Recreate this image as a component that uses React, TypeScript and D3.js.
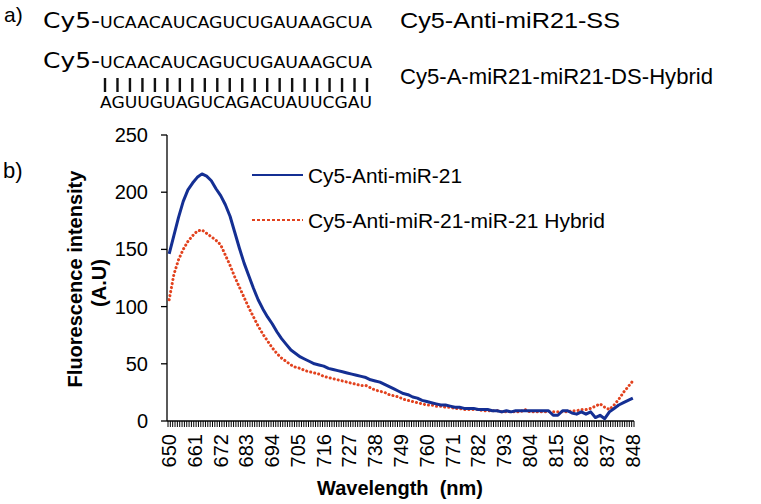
import React from "react";
import * as d3 from "d3";

const wavelengths: number[] = [
  650, 652, 654, 656, 658, 660, 662, 664, 666, 668, 670, 672, 674, 676, 678, 680, 682, 684, 686, 688,
  690, 692, 694, 696, 698, 700, 702, 704, 706, 708, 710, 712, 714, 716, 718, 720, 722, 724, 726, 728,
  730, 732, 734, 736, 738, 740, 742, 744, 746, 748, 750, 752, 754, 756, 758, 760, 762, 764, 766, 768,
  770, 772, 774, 776, 778, 780, 782, 784, 786, 788, 790, 792, 794, 796, 798, 800, 802, 804, 806, 808,
  810, 812, 814, 816, 818, 820, 822, 824, 826, 828, 830, 832, 834, 836, 838, 840, 842, 844, 846, 848,
];

const antiMiR21: number[] = [
  146, 162, 178, 192, 202, 208, 213, 216, 214, 210, 203, 197, 189, 179, 165, 151, 138, 127, 116, 106,
  98, 91, 85, 78, 72, 67, 62, 59, 56, 54, 52, 50, 49, 48, 46, 45, 44, 43, 42, 41,
  40, 39, 38, 36, 35, 34, 32, 30, 28, 26, 24, 23, 21, 20, 18, 17, 16, 15, 14, 14,
  13, 12, 12, 11, 11, 11, 10, 10, 10, 9, 9, 8, 9, 8, 9, 9, 9, 9, 9, 9,
  9, 9, 5, 5, 9, 9, 7, 6, 8, 6, 8, 3, 5, 2, 8, 11, 14, 16, 18, 20,
];

const hybrid: number[] = [
  106, 128, 141, 150, 157, 162, 166, 167, 164, 161, 158, 154, 145, 136, 126, 117, 108, 99, 91, 83,
  76, 70, 64, 59, 55, 52, 49, 47, 46, 44, 43, 42, 41, 39, 38, 37, 36, 35, 34, 33,
  32, 31, 31, 29, 27, 26, 25, 23, 22, 21, 19, 18, 17, 16, 15, 14, 14, 13, 13, 12,
  12, 11, 11, 10, 10, 10, 10, 9, 9, 9, 9, 8, 8, 8, 8, 8, 10, 8, 8, 8,
  8, 8, 8, 8, 8, 8, 9, 9, 10, 10, 11, 13, 15, 12, 10, 14, 19, 25, 30, 35,
];

const xTickLabels: number[] = [650, 661, 672, 683, 694, 705, 716, 727, 738, 749, 760, 771, 782, 793, 804, 815, 826, 837, 848];
const yTicks: number[] = [0, 50, 100, 150, 200, 250];

const seqTop = "UCAACAUCAGUCUGAUAAGCUA";
const seqBottom = "AGUUGUAGUCAGACUAUUCGAU";
const seriesNames = ["Cy5-Anti-miR-21", "Cy5-Anti-miR-21-miR-21 Hybrid"];

const W = 761;
const H = 504;
const ARIAL = "'Liberation Sans', Arial, sans-serif";
const VERD = "'DejaVu Sans', Verdana, sans-serif";
const BLUE = "#142f93";
const RED = "#e2421e";

export default function App() {
  const x = d3.scaleLinear().domain([649.5, 848.5]).range([168, 634]);
  const y = d3.scaleLinear().domain([0, 250]).range([421, 135]);
  const line = d3
    .line<number>()
    .x((_, i) => x(wavelengths[i]))
    .y((d) => y(d));
  const allTicks = d3.range(650, 849);
  const bars = d3.range(seqTop.length);
  const barX = d3.scaleLinear().domain([0, seqTop.length - 1]).range([105, 367]);

  return (
    <svg
      width={W}
      height={H}
      style={{ position: "absolute", left: 0, top: 0, background: "#fff" }}
    >
      <rect width={W} height={H} fill="#fff" />
      {/* panel a */}
      <text x={4} y={22} fontFamily={ARIAL} fontSize={21}>a)</text>
      <text x={43} y={28} fontFamily={VERD} fontSize={22} textLength={57} lengthAdjust="spacingAndGlyphs">Cy5-</text>
      <text x={100} y={28} fontFamily={VERD} fontSize={16} textLength={272} lengthAdjust="spacingAndGlyphs">{seqTop}</text>
      <text x={43} y={68} fontFamily={VERD} fontSize={22} textLength={57} lengthAdjust="spacingAndGlyphs">Cy5-</text>
      <text x={100} y={68} fontFamily={VERD} fontSize={16} textLength={272} lengthAdjust="spacingAndGlyphs">{seqTop}</text>
      {bars.map((i) => (
        <rect key={i} x={barX(i) - 1.2} y={78} width={2.4} height={14} fill="#111" />
      ))}
      <text x={100} y={108} fontFamily={VERD} fontSize={16} textLength={272} lengthAdjust="spacingAndGlyphs">{seqBottom}</text>
      <text x={400} y={28} fontFamily={ARIAL} fontSize={22} textLength={220} lengthAdjust="spacingAndGlyphs">Cy5-Anti-miR21-SS</text>
      <text x={400} y={84} fontFamily={ARIAL} fontSize={22} textLength={313} lengthAdjust="spacingAndGlyphs">Cy5-A-miR21-miR21-DS-Hybrid</text>

      {/* panel b */}
      <text x={3} y={178} fontFamily={ARIAL} fontSize={22}>b)</text>

      {/* y axis */}
      <line x1={167} x2={167} y1={135} y2={421} stroke="#000" strokeWidth={1.3} />
      {yTicks.map((t) => (
        <g key={t}>
          <line x1={161} x2={167} y1={y(t)} y2={y(t)} stroke="#000" strokeWidth={1.3} />
          <text x={148} y={y(t)} dy="0.35em" textAnchor="end" fontFamily={ARIAL} fontSize={20}>{t}</text>
        </g>
      ))}
      <text transform="translate(82,279) rotate(-90)" textAnchor="middle" fontFamily={ARIAL} fontSize={20} fontWeight="bold">Fluorescence intensity</text>
      <text transform="translate(106,283) rotate(-90)" textAnchor="middle" fontFamily={ARIAL} fontSize={20} fontWeight="bold">(A.U)</text>

      {/* x axis */}
      <line x1={167} x2={634} y1={421} y2={421} stroke="#000" strokeWidth={1.3} />
      {allTicks.map((t) => (
        <line key={t} x1={x(t) - 1.17} x2={x(t) - 1.17} y1={421} y2={427} stroke="#000" strokeWidth={1} />
      ))}
      <line x1={634} x2={634} y1={421} y2={427} stroke="#000" strokeWidth={1} />
      {xTickLabels.map((t) => (
        <text key={t} transform={`translate(${x(t)},434) rotate(-90)`} dy="0.35em" textAnchor="end" fontFamily={ARIAL} fontSize={20}>{t}</text>
      ))}
      <text x={400} y={495} textAnchor="middle" fontFamily={ARIAL} fontSize={20} fontWeight="bold" style={{ whiteSpace: "pre" }}>{"Wavelength  (nm)"}</text>

      {/* series */}
      <path d={line(hybrid) || ""} fill="none" stroke={RED} strokeWidth={3} strokeDasharray="0.1 4" strokeLinecap="round" />
      <path d={line(antiMiR21) || ""} fill="none" stroke={BLUE} strokeWidth={3} strokeLinejoin="round" />

      {/* legend */}
      <line x1={252} x2={303} y1={175} y2={175} stroke={BLUE} strokeWidth={2.2} />
      <text x={308} y={183} fontFamily={ARIAL} fontSize={20} textLength={154} lengthAdjust="spacingAndGlyphs">{seriesNames[0]}</text>
      <line x1={252} x2={303} y1={220} y2={220} stroke={RED} strokeWidth={2} strokeDasharray="3 2" />
      <text x={308} y={228} fontFamily={ARIAL} fontSize={20} textLength={297} lengthAdjust="spacingAndGlyphs">{seriesNames[1]}</text>
    </svg>
  );
}
